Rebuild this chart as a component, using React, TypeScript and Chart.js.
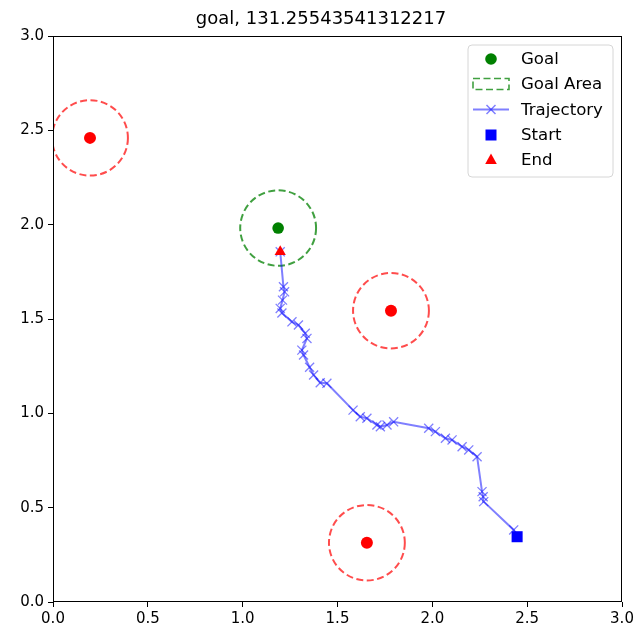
import React, { useEffect, useRef } from "react";
import { Chart, registerables } from "chart.js";

Chart.register(...registerables);

const TITLE = "goal, 131.25543541312217";
const TICK_VALUES = [0, 0.5, 1, 1.5, 2, 2.5, 3];

const GOAL_X = [1.187];
const GOAL_Y = [1.982];
const GOAL_RADIUS = 0.2;

const OBSTACLE_X = [0.195, 1.782, 1.655];
const OBSTACLE_Y = [2.46, 1.544, 0.314];
const OBSTACLE_RADIUS = 0.2;

const START_X = [2.447];
const START_Y = [0.346];
const END_X = [1.198];
const END_Y = [1.856];

const TRAJ_X = [
  2.447, 2.429, 2.271, 2.268, 2.262, 2.236, 2.192, 2.157, 2.104, 2.069, 2.016,
  1.981, 1.796, 1.761, 1.726, 1.708, 1.655, 1.62, 1.582, 1.444, 1.409, 1.374,
  1.353, 1.321, 1.312, 1.339, 1.33, 1.294, 1.26, 1.207, 1.198, 1.21, 1.221,
  1.215, 1.198,
];
const TRAJ_Y = [
  0.346, 0.382, 0.532, 0.558, 0.585, 0.77, 0.806, 0.823, 0.859, 0.868, 0.903,
  0.921, 0.955, 0.938, 0.929, 0.938, 0.974, 0.982, 1.017, 1.159, 1.162, 1.203,
  1.244, 1.309, 1.335, 1.397, 1.424, 1.468, 1.485, 1.532, 1.556, 1.6, 1.644,
  1.671, 1.856,
];

const LEGEND_LABELS = ["Goal", "Goal Area", "Trajectory", "Start", "End"];

const FONT = "'DejaVu Sans', sans-serif";
const GREEN = "#008000";
const GREEN_DASH = "rgba(0,128,0,0.75)";
const RED = "#ff0000";
const RED_DASH = "rgba(255,0,0,0.7)";
const BLUE = "#0000ff";
const TRAJ_COLOR = "rgba(0,0,255,0.5)";

const zip = (xs: number[], ys: number[]) => xs.map((x, i) => ({ x, y: ys[i] }));

const circlesPlugin = {
  id: "circles",
  afterLayout(chart: any) {
    const tb = chart.titleBlock;
    if (tb) {
      tb.left += 10;
      tb.right += 10;
    }
  },
  beforeDatasetsDraw(chart: any) {
    const { ctx, chartArea, scales } = chart;
    const xs = scales.x;
    const ys = scales.y;
    ctx.save();
    ctx.beginPath();
    ctx.rect(chartArea.left, chartArea.top, chartArea.right - chartArea.left, chartArea.bottom - chartArea.top);
    ctx.clip();
    const drawCircle = (cx: number, cy: number, r: number, color: string) => {
      const px = xs.getPixelForValue(cx);
      const py = ys.getPixelForValue(cy);
      const rx = Math.abs(xs.getPixelForValue(cx + r) - px);
      const ry = Math.abs(ys.getPixelForValue(cy + r) - py);
      ctx.beginPath();
      ctx.ellipse(px, py, rx, ry, 0, 0, Math.PI * 2);
      ctx.strokeStyle = color;
      ctx.lineWidth = 2;
      ctx.setLineDash([7, 3.5]);
      ctx.stroke();
    };
    OBSTACLE_X.forEach((x, i) => drawCircle(x, OBSTACLE_Y[i], OBSTACLE_RADIUS, RED_DASH));
    GOAL_X.forEach((x, i) => drawCircle(x, GOAL_Y[i], GOAL_RADIUS, GREEN_DASH));
    ctx.restore();
  },
  afterDraw(chart: any) {
    const { ctx, chartArea } = chart;
    ctx.save();
    // frame
    ctx.strokeStyle = "#000";
    ctx.lineWidth = 1;
    ctx.setLineDash([]);
    ctx.strokeRect(
      Math.round(chartArea.left) + 0.5,
      Math.round(chartArea.top) + 0.5,
      Math.round(chartArea.right - chartArea.left) - 1,
      Math.round(chartArea.bottom - chartArea.top) - 1
    );

    // legend
    const boxL = 468;
    const boxT = 45;
    const boxW = 145;
    const boxH = 132;
    const rr = 4;
    ctx.beginPath();
    ctx.moveTo(boxL + rr, boxT);
    ctx.arcTo(boxL + boxW, boxT, boxL + boxW, boxT + boxH, rr);
    ctx.arcTo(boxL + boxW, boxT + boxH, boxL, boxT + boxH, rr);
    ctx.arcTo(boxL, boxT + boxH, boxL, boxT, rr);
    ctx.arcTo(boxL, boxT, boxL + boxW, boxT, rr);
    ctx.closePath();
    ctx.fillStyle = "rgba(255,255,255,0.8)";
    ctx.fill();
    ctx.strokeStyle = "#d6d6d6";
    ctx.lineWidth = 1;
    ctx.stroke();

    const hx0 = 473;
    const hx1 = 509;
    const hc = (hx0 + hx1) / 2;
    const textX = 521;
    const rowY = [59, 84, 109.5, 135, 160];
    ctx.font = `16.6px ${FONT}`;
    ctx.textBaseline = "middle";
    ctx.textAlign = "left";
    LEGEND_LABELS.forEach((label, i) => {
      const y = rowY[i];
      ctx.save();
      if (i === 0) {
        ctx.beginPath();
        ctx.arc(hc, y, 5.8, 0, Math.PI * 2);
        ctx.fillStyle = GREEN;
        ctx.fill();
      } else if (i === 1) {
        ctx.setLineDash([7, 3.5]);
        ctx.strokeStyle = GREEN_DASH;
        ctx.lineWidth = 1.6;
        ctx.strokeRect(hx0, y - 5.5, hx1 - hx0, 11);
      } else if (i === 2) {
        ctx.strokeStyle = TRAJ_COLOR;
        ctx.lineWidth = 2;
        ctx.beginPath();
        ctx.moveTo(hx0, y);
        ctx.lineTo(hx1, y);
        ctx.stroke();
        ctx.lineWidth = 1.5;
        ctx.beginPath();
        ctx.moveTo(hc - 4.5, y - 4.5);
        ctx.lineTo(hc + 4.5, y + 4.5);
        ctx.moveTo(hc - 4.5, y + 4.5);
        ctx.lineTo(hc + 4.5, y - 4.5);
        ctx.stroke();
      } else if (i === 3) {
        ctx.fillStyle = BLUE;
        ctx.fillRect(hc - 5.5, y - 5.5, 11, 11);
      } else {
        ctx.fillStyle = RED;
        ctx.beginPath();
        ctx.moveTo(hc, y - 6.5);
        ctx.lineTo(hc + 5.8, y + 4);
        ctx.lineTo(hc - 5.8, y + 4);
        ctx.closePath();
        ctx.fill();
      }
      ctx.restore();
      ctx.fillStyle = "#000";
      ctx.fillText(label, textX, y + 1);
    });
    ctx.restore();
  },
};

export default function App() {
  const ref = useRef<HTMLCanvasElement | null>(null);

  useEffect(() => {
    if (!ref.current) return;
    const chart = new Chart(ref.current, {
      type: "scatter",
      data: {
        datasets: [
          {
            label: "End",
            data: zip(END_X, END_Y),
            pointStyle: "triangle",
            pointRadius: 6.5,
            backgroundColor: RED,
            borderColor: RED,
            borderWidth: 0,
            order: 0,
          },
          {
            label: "Start",
            data: zip(START_X, START_Y),
            pointStyle: "rect",
            pointRadius: 7.8,
            backgroundColor: BLUE,
            borderColor: BLUE,
            borderWidth: 0,
            order: 1,
          },
          {
            label: "Trajectory",
            data: zip(TRAJ_X, TRAJ_Y),
            showLine: true,
            borderColor: TRAJ_COLOR,
            backgroundColor: TRAJ_COLOR,
            borderWidth: 2,
            pointStyle: "crossRot",
            pointRadius: 6.4,
            pointBorderWidth: 1.3,
            pointBorderColor: TRAJ_COLOR,
            order: 2,
          },
          {
            label: "Goal",
            data: zip(GOAL_X, GOAL_Y),
            pointStyle: "circle",
            pointRadius: 5.8,
            backgroundColor: GREEN,
            borderWidth: 0,
            order: 3,
          },
          {
            label: "Obstacles",
            data: zip(OBSTACLE_X, OBSTACLE_Y),
            pointStyle: "circle",
            pointRadius: 6,
            backgroundColor: RED,
            borderWidth: 0,
            order: 4,
          },
        ],
      },
      options: {
        animation: false,
        responsive: true,
        maintainAspectRatio: false,
        layout: { padding: { left: 0, right: 12, top: 0, bottom: 0 } },
        plugins: {
          legend: { display: false },
          tooltip: { enabled: false },
          title: {
            display: true,
            text: TITLE,
            color: "#000",
            font: { family: FONT, size: 18, weight: "normal" },
            padding: { top: 9, bottom: 5.4 },
          },
        },
        scales: {
          x: {
            type: "linear",
            min: 0,
            max: 3,
            afterBuildTicks: (axis: any) => {
              axis.ticks = TICK_VALUES.map((v) => ({ value: v }));
            },
            afterFit: (axis: any) => {
              axis.height = 27;
              axis.paddingLeft = 0;
              axis.paddingRight = 0;
            },
            border: { display: false },
            grid: {
              drawOnChartArea: false,
              drawTicks: true,
              tickLength: 5,
              color: "#000",
              lineWidth: 1,
            },
            ticks: {
              color: "#000",
              padding: 3,
              maxRotation: 0,
              autoSkip: false,
              font: { family: FONT, size: 15 },
              callback: (v: any) => Number(v).toFixed(1),
            },
          },
          y: {
            type: "linear",
            min: 0,
            max: 3,
            afterBuildTicks: (axis: any) => {
              axis.ticks = TICK_VALUES.map((v) => ({ value: v }));
            },
            afterFit: (axis: any) => {
              axis.width = 53;
              axis.paddingTop = 0;
              axis.paddingBottom = 0;
            },
            border: { display: false },
            grid: {
              drawOnChartArea: false,
              drawTicks: true,
              tickLength: 5,
              color: "#000",
              lineWidth: 1,
            },
            ticks: {
              color: "#000",
              padding: 4,
              autoSkip: false,
              font: { family: FONT, size: 15 },
              callback: (v: any) => Number(v).toFixed(1),
            },
          },
        },
      },
      plugins: [circlesPlugin],
    });
    return () => chart.destroy();
  }, []);

  return (
    <div style={{ position: "absolute", left: 0, top: 0, width: 634, height: 629, background: "#fff" }}>
      <canvas ref={ref} />
    </div>
  );
}
